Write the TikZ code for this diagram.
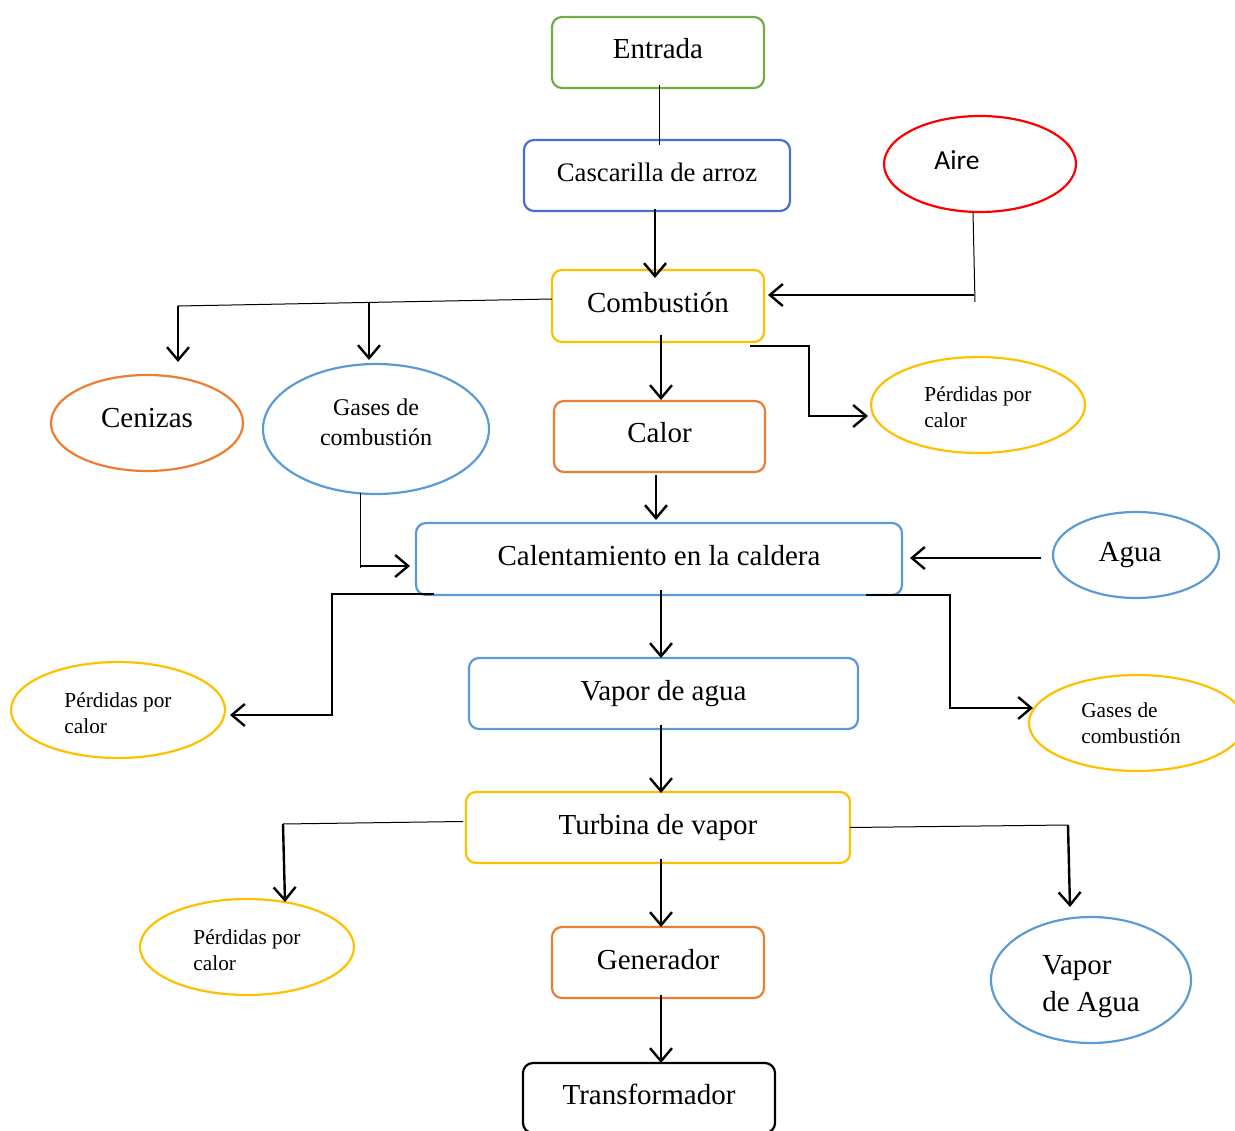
\documentclass[tikz,border=0pt]{standalone}
\usepackage{fontspec}
\setmainfont{Liberation Serif}
\newfontfamily\airefont{Carlito}
\usetikzlibrary{shapes.geometric,arrows.meta}
\definecolor{cgreen}{HTML}{70AD47}
\definecolor{cblueA}{HTML}{4472C4}
\definecolor{cblue}{HTML}{5B9BD5}
\definecolor{cyellow}{HTML}{FFC000}
\definecolor{corange}{HTML}{ED7D31}
\definecolor{cred}{HTML}{FF0000}
\tikzset{
  boxA/.style={draw, rounded corners=10pt, line width=2.2pt, outer sep=0pt, inner sep=0pt,
    text height=20pt, text depth=7pt, font=\fontsize{29}{35}\selectfont},
  ell/.style={draw, ellipse, line width=2.2pt, outer sep=0pt, inner sep=0pt, align=left},
  bigtxt/.style={font=\fontsize{29}{37}\selectfont, align=left},
  midtxt/.style={font=\fontsize{24}{30}\selectfont, align=center},
  smalltxt/.style={font=\fontsize{21.3}{26}\selectfont, align=left},
  arr/.style={-{Straight Barb[length=13pt,width=22pt]}, line width=2.4pt, black},
  thinln/.style={line width=1pt, black}
}
\begin{document}
\begin{tikzpicture}[x=1pt,y=-1pt]
\useasboundingbox (0,0) rectangle (1235,1131);
\clip (0,0) rectangle (1235,1131);
% boxes
\node[boxA, draw=cgreen, minimum width=212pt, minimum height=71pt] (entrada) at (658,52.5) {Entrada};
\node[boxA, draw=cblueA, minimum width=266pt, minimum height=71pt, font=\fontsize{26.7}{32}\selectfont] (casc) at (657,175.5) {Cascarilla de arroz};
\node[boxA, draw=cyellow, minimum width=212pt, minimum height=72pt] (comb) at (658,306) {Combusti\'on};
\node[boxA, draw=corange, minimum width=211pt, minimum height=71pt] (calor) at (659.5,436.5) {Calor};
\node[boxA, draw=cblue, minimum width=486pt, minimum height=72pt] (calent) at (659,559) {Calentamiento en la caldera};
\node[boxA, draw=cblue, minimum width=389pt, minimum height=71pt] (vapor) at (663.5,693.5) {Vapor de agua};
\node[boxA, draw=cyellow, minimum width=384pt, minimum height=71pt] (turb) at (658,827.5) {Turbina de vapor};
\node[boxA, draw=corange, minimum width=212pt, minimum height=71pt] (gen) at (658,962.5) {Generador};
\node[boxA, draw=black, minimum width=252pt, minimum height=70pt] (trans) at (649,1098) {Transformador};
% ellipses
\node[ell, draw=cred, minimum width=192pt, minimum height=96pt,
  label={[font=\airefont\fontsize{27.5}{33}\selectfont, xshift=-23pt, yshift=4pt]center:Aire}] (aire) at (980,164) {};
\node[ell, draw=corange, minimum width=192pt, minimum height=96pt,
  label={[bigtxt, yshift=5pt]center:Cenizas}] (cen) at (147,423) {};
\node[ell, draw=cblue, minimum width=226pt, minimum height=130pt,
  label={[midtxt, yshift=7pt]center:{Gases de\\combusti\'on}}] (gasesA) at (376,429) {};
\node[ell, draw=cyellow, minimum width=214pt, minimum height=96pt,
  label={[smalltxt, yshift=-2pt]center:{P\'erdidas por\\calor}}] (perdA) at (978,405) {};
\node[ell, draw=cblue, minimum width=166pt, minimum height=86pt,
  label={[bigtxt, xshift=-6pt]center:Agua}] (agua) at (1136,555) {};
\node[ell, draw=cyellow, minimum width=214pt, minimum height=96pt,
  label={[smalltxt, yshift=-3pt]center:{P\'erdidas por\\calor}}] (perdB) at (118,710) {};
\node[ell, draw=cyellow, minimum width=216pt, minimum height=96pt,
  label={[smalltxt, xshift=-6pt]center:{Gases de\\combusti\'on}}] (gasesB) at (1137,723) {};
\node[ell, draw=cyellow, minimum width=214pt, minimum height=96pt,
  label={[smalltxt, yshift=-3pt]center:{P\'erdidas por\\calor}}] (perdC) at (247,947) {};
\node[ell, draw=cblue, minimum width=200pt, minimum height=126pt,
  label={[bigtxt, yshift=-7pt]center:{Vapor\\de Agua}}] (vagua) at (1091,980) {};
% junction coordinates
\coordinate (airej) at (974,295);
\coordinate (cenj) at (178,306);
\coordinate (gasj) at (369,302.4);
\coordinate (gasAj) at (360,566);
\coordinate (turbLj) at (283,824);
\coordinate (turbRj) at (1068,825);
% connectors
\draw[thinln] ([xshift=1pt,yshift=3pt]entrada.south) -- ([xshift=2pt,yshift=-5pt]casc.north);
\draw[arr] ([xshift=-2pt,yshift=2pt]casc.south) -- ([xshift=-3pt,yshift=-8pt]comb.north);
\draw[thinln] ([xshift=-7pt]aire.south) -- (975,302);
\draw[arr] (airej) -- ([xshift=4pt,yshift=11pt]comb.east);
\draw[thinln] ([yshift=7pt]comb.west) -- (cenj);
\draw[arr] (cenj) -- ([xshift=31pt,yshift=13pt]cen.north);
\draw[arr] (gasj) -- ([xshift=-7pt,yshift=4pt]gasesA.north);
\draw[thinln] ([xshift=-16pt,yshift=1pt]gasesA.south) -- (360,568);
\draw[arr] (gasAj) -- ([xshift=-6pt,yshift=-7pt]calent.west);
\draw[arr] ([xshift=3pt,yshift=7pt]comb.south) -- ([xshift=1.5pt,yshift=1pt]calor.north);
\draw[arr] ([xshift=-14pt,yshift=-4pt]comb.south east) -- ++(59,0) |- ([xshift=-3pt,yshift=-11pt]perdA.west);
\draw[arr] ([xshift=-3.5pt,yshift=-3pt]calor.south) -- ([xshift=-3pt,yshift=3pt]calent.north);
\draw[arr] ([xshift=-12pt,yshift=-3pt]agua.west) -- ([xshift=8pt,yshift=1pt]calent.east);
\draw[arr] ([xshift=2pt,yshift=5pt]calent.south) -- ([xshift=-2.5pt]vapor.north);
\draw[arr] ([xshift=18pt,yshift=1pt]calent.south west) -- ++(-102,0) |- ([xshift=5pt,yshift=-5pt]perdB.east);
\draw[arr] ([xshift=-36pt]calent.south east) -- ++(84,0) |- ([xshift=4pt,yshift=15pt]gasesB.west);
\draw[arr] ([xshift=-2.5pt,yshift=4pt]vapor.south) -- ([xshift=3pt,yshift=-1pt]turb.north);
\draw[thinln] ([xshift=-3pt,yshift=6pt]turb.west) -- (turbLj);
\draw[arr] (turbLj) -- ([xshift=38pt,yshift=-3pt]perdC.north);
\draw[thinln] (turb.east) -- (turbRj);
\draw[arr] (turbRj) -- ([xshift=-21pt,yshift=10pt]vagua.north);
\draw[arr] ([xshift=3pt,yshift=4pt]turb.south) -- ([xshift=3pt]gen.north);
\draw[arr] ([xshift=3pt,yshift=3pt]gen.south) -- ([xshift=12pt]trans.north);
\end{tikzpicture}
\end{document}
